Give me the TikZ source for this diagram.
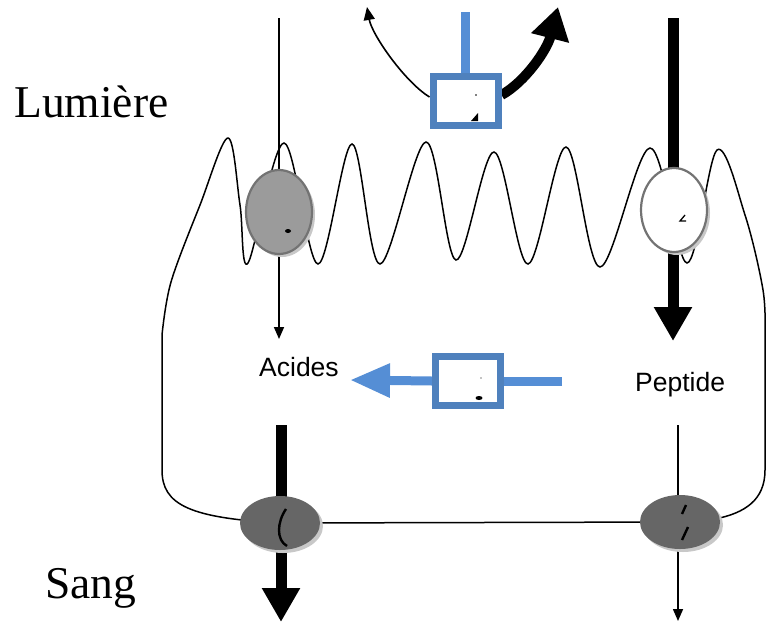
\documentclass[tikz,border=0pt]{standalone}
\usepackage{fontspec}
\setmainfont{Liberation Serif}
\newfontfamily\arialfont{Liberation Sans}
\usetikzlibrary{arrows.meta,shapes.geometric,shadows,backgrounds}
\definecolor{bluebox}{RGB}{79,129,189}
\definecolor{blueline}{RGB}{85,142,213}
\definecolor{cellgray}{RGB}{155,155,155}
\definecolor{cellborder}{RGB}{115,115,115}
\definecolor{darkcell}{RGB}{102,102,102}
\definecolor{shadowgray}{RGB}{200,200,200}
\begin{document}
\begin{tikzpicture}[x=1pt,y=-1pt,
  memb/.style={line width=1.5pt,black},
  thinarrow/.style={line width=1.6pt,-{Triangle[length=12pt,width=10pt]}},
  thickarrow/.style={line width=11pt,-{Triangle[length=34pt,width=36pt]}},
  bluestem/.style={line width=9pt,blueline},
  bluearrow/.style={line width=9pt,blueline,-{Triangle[length=40pt,width=32pt]}},
  ctrlbox/.style={draw=bluebox,line width=7pt,fill=white,minimum width=65pt,minimum height=49pt,inner sep=0pt},
  cellshadow/.style={drop shadow={shadow xshift=3pt,shadow yshift=-3pt,fill=shadowgray,opacity=1}},
  lightcell/.style={ellipse,minimum width=66pt,minimum height=84pt,inner sep=0pt,line width=2.2pt,cellshadow},
  darkcellst/.style={ellipse,minimum width=80pt,minimum height=54pt,inner sep=0pt,fill=darkcell,cellshadow},
  bigtext/.style={font=\fontsize{45.5}{50}\selectfont,inner sep=0pt},
  smalltext/.style={font=\arialfont\fontsize{26.5}{29}\selectfont,inner sep=0pt},
  glyphmark/.style={line width=2.4pt,black}
]
\useasboundingbox (0,0) rectangle (767,624);

% labels
\node[bigtext,anchor=base west] (lum) at (14,117) {Lumière};
\node[bigtext,anchor=base west] (sang) at (45,598) {Sang};
\node[smalltext,anchor=base west] (acides) at (259,376) {Acides};
\node[smalltext,anchor=base west] (pept) at (635,391) {Peptide};

% cells
\node[lightcell,fill=cellgray,draw=cellborder] (e1) at (279,212) {};
\node[lightcell,fill=white,draw=cellborder] (e2) at (674,210) {};
\node[darkcellst] (e6) at (280,523) {};
\node[darkcellst] (e7) at (680,522) {};

% blue control boxes
\node[ctrlbox] (b1) at (465.5,101) {};
\node[ctrlbox] (b2) at (468,381) {};

% coordinates
\coordinate (t1) at (279,18);
\coordinate (a1) at (279,339);
\coordinate (t2) at (673,18);
\coordinate (a2) at (673,341);
\coordinate (s6) at (281,425);
\coordinate (a6) at (281,622);
\coordinate (s7) at (678,425);
\coordinate (a7) at (678,621);
\coordinate (tl) at (367,7);
\coordinate (tr) at (558,7);
\coordinate (stem1) at (465.5,12);
\coordinate (stem2) at (562,381);
\coordinate (a3) at (350,380);

\begin{scope}[on background layer]
  % membrane
  \draw[memb] (e6.center) .. controls (190,518) and (162,505) .. (162,470) -- (162,335)
    plot[smooth,tension=0.55] coordinates {(162,335) (171,282) (200,205) (228,138) (240,205) (248,263)
      (284,143) (318,264) (352,144) (380,264) (426,142) (456,260) (494,152) (528,264)
      (566,147) (600,267) (650,148) (687,263) (717,150) (745,215) (763,290) (765,335)}
    -- (765,470) .. controls (765,500) and (745,513) .. (715,519) -- (e7.center);
  \draw[memb] (e6.center) -- (e7.center);
  % vertical transport arrows
  \draw[thinarrow] (t1) -- (a1);
  \draw[thickarrow] (t2) -- (a2);
  \draw[thickarrow] (s6) -- (a6);
  \draw[thinarrow] (s7) -- (a7);
  % top curved arrows
  \draw[line width=1.6pt,-{Triangle[length=13pt,width=11pt]}]
    ([yshift=4pt]b1.west) .. controls (405,82) and (372,35) .. (tl);
  \draw[line width=10pt,-{Triangle[length=32pt,width=37pt]}]
    ([yshift=6pt]b1.east) .. controls (525,82) and (547,50) .. (tr);
  % blue stems
  \draw[bluestem] (stem1) -- (b1.north);
  \draw[bluestem] (stem2) -- (b2.east);
  \draw[bluearrow] (b2.west) -- (a3);
\end{scope}

% clipped glyph fragments
\fill (476,95) circle (0.8);
\fill (471,121) -- (478,113) -- (478,121) -- cycle;
\fill (288,231) ellipse (3 and 2);
\draw[line width=1.3pt] (685,215) -- (680,221) -- (686,221);
\fill (481,378) circle (0.7);
\fill (479,398) ellipse (3.5 and 2);
\draw[glyphmark] (286,509) .. controls (277,522) and (276,540) .. (287,546);
\draw[glyphmark] (686,505) -- (682,514);
\draw[glyphmark] (688,527) -- (682,540);
\end{tikzpicture}
\end{document}
